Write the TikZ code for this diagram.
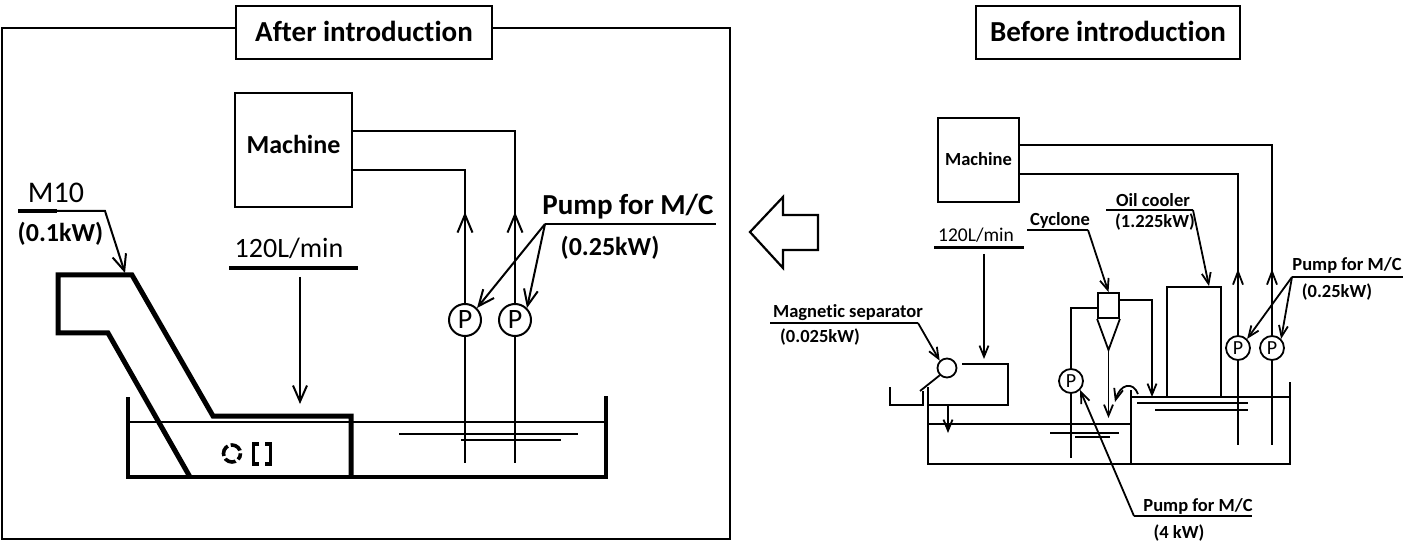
\documentclass[tikz,border=0pt]{standalone}
\usepackage{fontspec}
\setmainfont[Ligatures=NoCommon]{Carlito}
\usetikzlibrary{arrows.meta,decorations.markings}
\begin{document}
\begin{tikzpicture}[x=1pt,y=-1pt,
  ln/.style={line width=2pt},
  lnr/.style={line width=1.8pt},
  hv/.style={line width=5pt,line join=miter},
  tk/.style={line width=4pt},
  barbL/.style={-{Straight Barb[length=16pt,width=14pt]}},
  barbR/.style={-{Straight Barb[length=11pt,width=9pt]}},
  upL/.style={postaction={decorate,decoration={markings,mark=at position #1 with {\arrow[line width=2pt]{Straight Barb[length=18pt,width=15pt]}}}}},
  upR/.style={postaction={decorate,decoration={markings,mark=at position #1 with {\arrow[line width=1.8pt]{Straight Barb[length=13pt,width=10pt]}}}}},
  ttl/.style={draw,line width=1.6pt,fill=white,inner sep=0pt,minimum width=256pt,minimum height=53pt,font=\fontsize{29}{34}\selectfont\bfseries,text height=18.7pt,text depth=0pt},
  bigL/.style={inner sep=0pt,font=\fontsize{29}{34}\selectfont\bfseries,text height=18.7pt,text depth=0pt},
  midL/.style={inner sep=0pt,font=\fontsize{26}{30}\selectfont\bfseries,text height=16.7pt,text depth=0pt},
  regM/.style={inner sep=0pt,font=\fontsize{30}{34}\selectfont,text height=19.3pt,text depth=0pt},
  regF/.style={inner sep=0pt,font=\fontsize{28}{32}\selectfont,text height=18pt,text depth=0pt},
  regFR/.style={inner sep=0pt,font=\fontsize{19.5}{22}\selectfont,text height=12.6pt,text depth=0pt},
  smR/.style={inner sep=0pt,font=\fontsize{18.5}{22}\selectfont\bfseries,text height=11.9pt,text depth=0pt},
  boxn/.style={draw,inner sep=0pt},
  pmpL/.style={draw,circle,line width=2pt,minimum size=32pt,inner sep=0pt,font=\fontsize{28}{30}\selectfont,text height=18pt,text depth=0pt},
  pmpR/.style={draw,circle,line width=1.8pt,minimum size=24pt,inner sep=0pt,font=\fontsize{20}{22}\selectfont,text height=12.9pt,text depth=0pt},
]
\useasboundingbox (0,0) rectangle (1403,545);

% ================= LEFT PANEL (After introduction) =================
\draw[ln] (236,28) -- (2,28) -- (2,539) -- (730,539) -- (730,28) -- (492,28);
\node[ttl] (tA) at (364,32.5) {After introduction};

\node[boxn,ln,minimum width=117pt,minimum height=114pt,font=\fontsize{26}{30}\selectfont\bfseries,text height=16.7pt,text depth=10pt] (mL) at (293.5,150) {Machine};

\node[pmpL] (pL1) at (465,320) {P};
\node[pmpL] (pL2) at (515,320) {P};

\draw[ln,upL=91pt] (pL1.north) -- (465,170) -- (mL.east |- 465,170);
\draw[ln,upL=91pt] (pL2.north) -- (515,131) -- (mL.east |- 515,131);
\coordinate (bL1) at (465,463);
\coordinate (bL2) at (515,463);
\draw[ln] (pL1.south) -- (bL1);
\draw[ln] (pL2.south) -- (bL2);

% tank
\draw[tk] (128,397) -- (128,477) -- (606,477) -- (606,396);
\draw[ln] (128,422) -- (606,422);
\draw[ln] (399,434) -- (578,434);
\draw[ln] (461,440) -- (561,440);

% conveyor
\draw[hv] (190,477) -- (108,333) -- (58,333) -- (58,275) -- (132,275) -- (213,416) -- (351,416) -- (351,477);
\draw[line width=3.6pt,dash pattern=on 11.5pt off 3pt,dash phase=5pt] (232,453.5) circle[radius=8.5];
\draw[line width=3.4pt] (259,444) -- (253.5,444) -- (253.5,464) -- (259,464);
\draw[line width=3.4pt] (265,444) -- (270.5,444) -- (270.5,464) -- (265,464);

% M10 label
\node[regM] (m10) at (56,192.5) {M10};
\node[midL] (m10kw) at (60.5,233) {(0.1kW)};
\coordinate (m10a) at (18,211);
\coordinate (m10b) at (105,211);
\coordinate (m10t) at (125,273);
\draw[line width=3.2pt] (m10a) -- (57,211);
\draw[ln,barbL] (m10a) -- (m10b) -- (m10t);

% 120 L/min
\node[regF] (flowL) at (289,249) {120L/min};
\draw[line width=4pt] (229,268) -- (358,268);
\coordinate (fa) at (300,277);
\coordinate (fb) at (300,404);
\draw[ln,barbL] (fa) -- (fb);

% pump label
\node[bigL] (pumpL) at (628,205) {Pump for M/C};
\node[midL] (pumpLkw) at (610,247) {(0.25kW)};
\coordinate (pla) at (545,224);
\coordinate (plb) at (716,224);
\draw[ln] (pla) -- (plb);
\draw[ln,barbL] (pla) -- (pL1.north east);
\draw[ln,barbL] (pla) -- (pL2.north east);

% big hollow arrow
\draw[line width=2.2pt,line join=miter] (750,232) -- (783,197) -- (783,215) -- (818,215) -- (818,250) -- (783,250) -- (783,268) -- cycle;

% ================= RIGHT PANEL (Before introduction) =================
\node[ttl,minimum width=264pt] (tB) at (1108,32.5) {Before introduction};

\node[boxn,lnr,minimum width=81pt,minimum height=84pt,font=\fontsize{18.5}{22}\selectfont\bfseries,text height=11.9pt,text depth=0pt] (mR) at (978.5,160) {Machine};

\node[pmpR] (pR1) at (1238,348) {P};
\node[pmpR] (pR2) at (1272,348) {P};
\node[pmpR] (pR3) at (1071,381) {P};

\draw[lnr,upR=66pt] (pR1.north) -- (1238,174) -- (mR.east |- 1238,174);
\draw[lnr,upR=66pt] (pR2.north) -- (1272,145) -- (mR.east |- 1272,145);
\coordinate (bR1) at (1238,445);
\coordinate (bR2) at (1272,445);
\draw[lnr] (pR1.south) -- (bR1);
\draw[lnr] (pR2.south) -- (bR2);

% tanks
\draw[lnr] (928,387) -- (928,464) -- (1290,464) -- (1290,382);
\draw[lnr] (928,424) -- (1131,424);
\draw[lnr] (1131,390) -- (1131,464);
\draw[lnr] (1131,397) -- (1290,397);
\draw[lnr] (1137,403) -- (1248,403);
\draw[lnr] (1155,410) -- (1248,410);
\draw[lnr] (1050,433) -- (1119,433);
\draw[lnr] (1075,437) -- (1110,437);

% magnetic separator
\node[draw,circle,lnr,minimum size=19pt,inner sep=0pt] (mS) at (947,368) {};
\draw[lnr] (962,364) -- (1008,364) -- (1008,405) -- (928,405);
\draw[lnr] (890,387) -- (890,405) -- (923,405) -- (923,391);
\draw[lnr] (920,391) -- (mS.south west);
\draw[lnr,barbR] (948,405) -- (948,433);
\node[smR] (msl) at (848,312) {Magnetic separator};
\node[smR] (mskw) at (820,337) {(0.025kW)};
\coordinate (msa) at (770,323);
\coordinate (msb) at (918,323);
\draw[lnr] (msa) -- (msb);
\draw[lnr,barbR] (msb) -- (mS.north west);

% 120 L/min right
\node[regFR] (flowR) at (976,235) {120L/min};
\draw[line width=3pt] (934,248) -- (1024,248);
\draw[lnr,barbR] (984,254) -- (984,359);

% cyclone
\node[boxn,lnr,minimum width=21pt,minimum height=25pt] (cy) at (1108.5,305.5) {};
\coordinate (apex) at (1108.5,350);
\draw[lnr,line join=miter] (cy.south west) -- (apex) -- (cy.south east);
\draw[lnr,barbR] (apex) -- (1108.5,418);
\draw[lnr] (cy.west |- 1070,308) -- (1071,308) -- (pR3.north);
\draw[lnr] (pR3.south) -- (1071,458);
\draw[lnr,barbR] (cy.east |- 1152,300) -- (1152,300) -- (1152,397);
\draw[lnr,barbR] (1138,394) .. controls (1133,381) and (1120,384) .. (1115,402);
\node[smR] (cyl) at (1060,220) {Cyclone};
\coordinate (cya) at (1027,230);
\coordinate (cyb) at (1088,230);
\draw[lnr] (cya) -- (cyb);
\draw[lnr,barbR] (cyb) -- (cy.north);

% oil cooler
\node[boxn,lnr,minimum width=54pt,minimum height=110pt] (oc) at (1194,342) {};
\node[smR] (ocl) at (1153,201) {Oil cooler};
\node[smR] (ockw) at (1155,222) {(1.225kW)};
\coordinate (oca) at (1106,210);
\coordinate (ocb) at (1193,210);
\draw[lnr] (oca) -- (ocb);
\draw[lnr,barbR] (ocb) -- (oc.north -| 1209,0);

% pump labels right
\node[smR] (pumpR) at (1347,265) {Pump for M/C};
\node[smR] (pumpRkw) at (1337,292) {(0.25kW)};
\coordinate (pra) at (1292,277);
\coordinate (prb) at (1403,277);
\draw[lnr] (pra) -- (prb);
\draw[lnr,barbR] (pra) -- (pR1.north east);
\draw[lnr,barbR] (pra) -- (pR2.north east);

\node[smR] (pumpB) at (1198,506) {Pump for M/C};
\node[smR] (pumpBkw) at (1179,533) {(4 kW)};
\coordinate (pba) at (1134,516);
\coordinate (pbb) at (1252,516);
\draw[lnr] (pba) -- (pbb);
\draw[lnr,barbR] (pba) -- (pR3.south east);
\end{tikzpicture}
\end{document}
